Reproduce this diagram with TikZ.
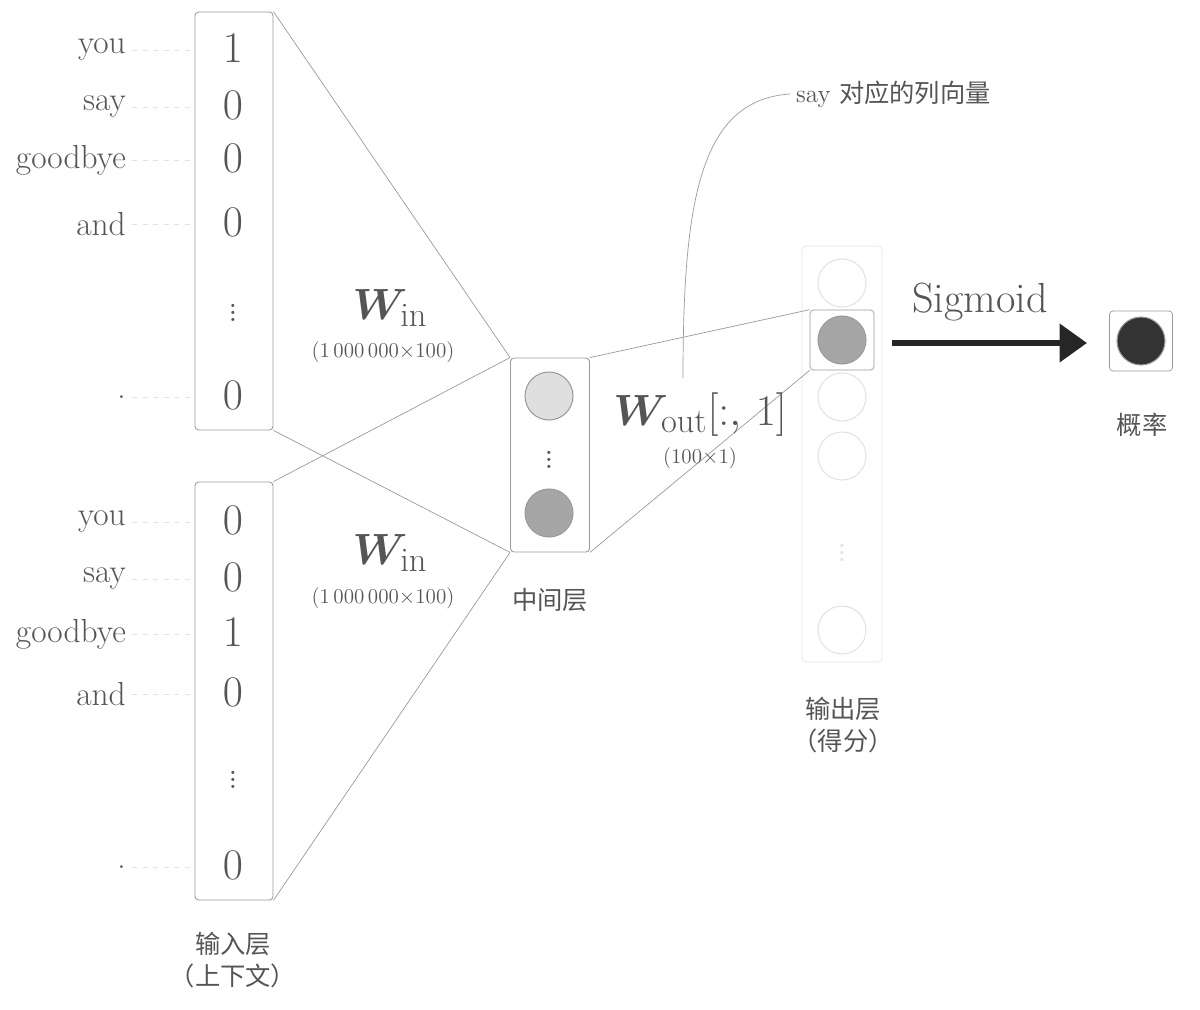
\documentclass[tikz,border=0pt]{standalone}
\usepackage{fontspec}
\usepackage{amsmath,amssymb,bm}
\newfontfamily\cjk{Noto Sans CJK SC}
\usetikzlibrary{positioning,arrows.meta}
\definecolor{txt}{HTML}{555555}
\definecolor{edge}{HTML}{9A9A9A}
\definecolor{faint}{HTML}{E2E2E2}
\tikzset{
  vecbox/.style={draw=edge, rounded corners=2pt, line width=0.5pt},
  word/.style={anchor=east, text=txt, font=\fontsize{19}{19}\selectfont},
  val/.style={text=txt, font=\fontsize{26}{26}\selectfont},
  dots/.style={text=txt, inner sep=0pt, font=\fontsize{22}{22}\selectfont},
  neuron/.style={circle, draw=edge, line width=0.6pt, minimum size=0.96cm, inner sep=0pt},
  link/.style={draw=edge, line width=0.4pt},
  cjklab/.style={text=txt, font=\cjk\Large, align=center}
}
\begin{document}
\begin{tikzpicture}[x=0.02cm, y=-0.02cm]
    \useasboundingbox (0,0) rectangle (1200,1010);
    % input layers
    \node [vecbox, minimum width=1.56cm, minimum height=8.36cm] (inA) at (234,221) {};
    \node [vecbox, minimum width=1.56cm, minimum height=8.36cm] (inB) at (234,691) {};
    \foreach \w/\v/\y [count=\i] in {you/1/48, say/0/105, goodbye/0/158, and/0/222, ./0/395} {
      \node [word] (wa\i) at (132,\y+2) {\w};
      \node [val] (va\i) at (233,\y) {$\v$};
      \draw [faint, dashed] (wa\i.east) -- (inA.west |- wa\i.east);
    }
    \foreach \w/\v/\y [count=\i] in {you/0/520, say/0/577, goodbye/1/632, and/0/692, ./0/865} {
      \node [word] (wb\i) at (132,\y+2) {\w};
      \node [val] (vb\i) at (233,\y) {$\v$};
      \draw [faint, dashed] (wb\i.east) -- (inB.west |- wb\i.east);
    }
    \node [dots] at (233,308) {$\vdots$};
    \node [dots] at (233,775) {$\vdots$};
    \node [cjklab] (inlab) at (233,960) {输入层\\（上下文）};
    % hidden layer
    \node [vecbox, minimum width=1.58cm, minimum height=3.88cm] (hid) at (550,455) {};
    \node [neuron, fill=gray!25] (h1) at (549,396) {};
    \node [neuron, fill=gray!70] (h2) at (549,513) {};
    \node [dots] at (549,455) {$\vdots$};
    \node [cjklab] (hidlab) at (550,600) {中间层};
    % weights in
    \draw [link] (inA.north east) -- (hid.north west);
    \draw [link] (inA.south east) -- (hid.south west);
    \draw [link] (inB.north east) -- (hid.north west);
    \draw [link] (inB.south east) -- (hid.south west);
    \node [text=txt, font=\fontsize{28}{28}\selectfont] (wina) at (390,308) {$\bm{W}_{\mathrm{in}}$};
    \node [text=txt, font=\large] at (383,352) {(1\,000\,000$\times$100)};
    \node [text=txt, font=\fontsize{28}{28}\selectfont] (winb) at (390,553) {$\bm{W}_{\mathrm{in}}$};
    \node [text=txt, font=\large] at (383,598) {(1\,000\,000$\times$100)};
    % output layer
    \node [draw=faint, rounded corners=2pt, minimum width=1.6cm, minimum height=8.32cm] (out) at (842,454) {};
    \foreach \y [count=\i] in {283, 397, 456} {
      \node [neuron, draw=faint] (o\i) at (842,\y) {};
    }
    \node [neuron, draw=faint] (o4) at (842,630) {};
    \node [text=faint, inner sep=0pt, font=\fontsize{22}{22}\selectfont] at (842,548) {$\vdots$};
    \node [draw=edge, rounded corners=2pt, minimum width=1.28cm, minimum height=1.2cm] (sel) at (842,340) {};
    \node [neuron, fill=gray!70] (os) at (842,340) {};
    \node [cjklab] (outlab) at (843,725) {输出层\\（得分）};
    % weights out
    \draw [link] (hid.north east) -- (sel.north west);
    \draw [link] (hid.south east) -- (sel.south west);
    \node [text=txt, font=\fontsize{28}{28}\selectfont] (wout) at (700,415) {$\bm{W}_{\mathrm{out}}[:,\,1]$};
    \node [text=txt, font=\large] at (700,458) {(100$\times$1)};
    % annotation
    \node [text=txt, font=\Large, anchor=west] (note) at (790,94) {say {\cjk 对应的列向量}};
    \coordinate (tip) at (683,378);
    \draw [edge] (tip) .. controls (683,200) and (700,100) .. (note.west);
    % sigmoid
    \node [draw=edge, rounded corners=2pt, minimum width=1.26cm, minimum height=1.2cm] (prob) at (1141,341) {};
    \node [neuron, fill=black!80] (p) at (1141,341) {};
    \coordinate (s0) at (892,343);
    \coordinate (s1) at (1087,343);
    \draw [line width=3.5pt, black!85, -{Triangle[length=0.55cm, width=0.75cm]}] (s0) -- (s1);
    \node [text=txt, font=\fontsize{24}{24}\selectfont] (sig) at (980,302) {Sigmoid};
    \node [cjklab] (plab) at (1142,425) {概率};
\end{tikzpicture}
\end{document}
